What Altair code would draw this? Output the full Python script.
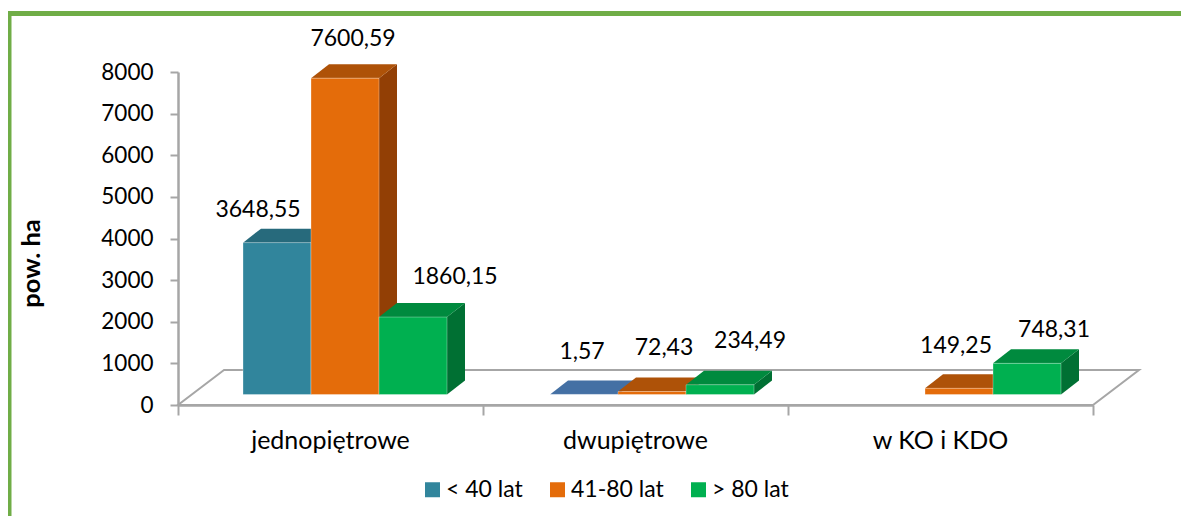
import altair as alt
import pandas as pd

CATEGORIES = ["jednopiętrowe", "dwupiętrowe", "w KO i KDO"]
SERIES = ["< 40 lat", "41-80 lat", "> 80 lat"]
VALUES_40 = [3648.55, 1.57, None]
VALUES_80 = [7600.59, 72.43, 149.25]
VALUES_OLD = [1860.15, 234.49, 748.31]
LABELS_40 = ["3648,55", "1,57", None]
LABELS_80 = ["7600,59", "72,43", "149,25"]
LABELS_OLD = ["1860,15", "234,49", "748,31"]
# label displacement from the centre of each bar top, in pixels (x right, y up)
NUDGE = {
    (0, 0): (-19, 33), (0, 1): (8, 39), (0, 2): (42, 40),
    (1, 0): (-2, 42), (1, 1): (12, 43), (1, 2): (30, 44),
    (2, 1): (-3, 42), (2, 2): (27, 33),
}
FRONT = ["#31859C", "#E46C0A", "#00B050"]
TOP = ["#276A7C", "#AE5208", "#008A3E"]
SIDE = ["#1F5563", "#923F05", "#007033"]
FONT = "Lato"
GREY = "#A6A6A6"

W, H = 915, 333
PX = W / 3          # pixels per category
PY = H / 8000       # pixels per value unit
FLOOR_DX, FLOOR_DY = 46 / PX, 35 / PY
BAR_DX, BAR_DY = 18 / PX, 14 / PY
BASE_DY = 10.5 / PY
BAR_W = 68 / PX
GROUP_START = 65 / PX
GROUP_STEP = 307 / PX

values = [VALUES_40, VALUES_80, VALUES_OLD]
labels = [LABELS_40, LABELS_80, LABELS_OLD]
fronts, sides, tops, texts = [], [], [], []
for c, cat in enumerate(CATEGORIES):
    for s, name in enumerate(SERIES):
        v = values[s][c]
        if v is None:
            continue
        x0 = GROUP_START + c * GROUP_STEP + s * BAR_W
        x1 = x0 + BAR_W
        bid = f"{c}-{s}"
        fronts.append(dict(x=x0, x2=x1, y=BASE_DY, y2=BASE_DY + v, k=name, id=bid))
        top_key = "blue top" if (c, s) == (1, 0) else f"{name} top"
        sides.append(dict(x=x1, y=BASE_DY, y2=BASE_DY + v, k=f"{name} side", id=bid))
        sides.append(dict(x=x1 + BAR_DX, y=BASE_DY + BAR_DY, y2=BASE_DY + BAR_DY + v, k=f"{name} side", id=bid))
        tops.append(dict(y=BASE_DY + v, x=x0, x2=x1, k=top_key, id=bid))
        tops.append(dict(y=BASE_DY + v + BAR_DY, x=x0 + BAR_DX, x2=x1 + BAR_DX, k=top_key, id=bid))
        nx, ny = NUDGE[(c, s)]
        texts.append(dict(x=(x0 + x1) / 2 + nx / PX, y=BASE_DY + v + ny / PY, t=labels[s][c]))

domain = SERIES + [f"{n} top" for n in SERIES] + [f"{n} side" for n in SERIES] + ["blue top"]
rng = FRONT + TOP + SIDE + ["#4470A4"]

xs = alt.Scale(domain=[0, 3], nice=False)
ys = alt.Scale(domain=[0, 8000], nice=False)
color = alt.Color(
    "k:N",
    scale=alt.Scale(domain=domain, range=rng),
    legend=alt.Legend(
        values=SERIES, title=None, orient="none", direction="horizontal",
        legendX=243, legendY=406, symbolType="square", symbolSize=225,
        symbolStrokeWidth=0, symbolOpacity=1, labelFont=FONT, labelFontSize=23,
        labelColor="#000000", columnPadding=23, labelOffset=2,
    ),
)

one = pd.DataFrame({"a": [0]})
floor_df = pd.DataFrame([
    dict(y=0, x=0, x2=3),
    dict(y=FLOOR_DY, x=FLOOR_DX, x2=3 + FLOOR_DX),
])
floor = alt.Chart(floor_df).mark_area(
    orient="horizontal", fill="#FFFFFF", stroke=GREY, strokeWidth=2
).encode(
    y=alt.Y("y:Q", scale=ys, stack=None, axis=alt.Axis(
        title="pow. ha", titleFont=FONT, titleFontSize=25.5, titleFontWeight="bold",
        titleColor="#000000", titleX=-134, titleY=191, values=list(range(0, 9000, 1000)),
        format="d", grid=False, domainColor=GREY, domainWidth=2.5, tickColor=GREY,
        tickWidth=2, tickSize=8, labelFont=FONT, labelFontSize=22.5, labelColor="#000000",
        labelPadding=17,
    )),
    x=alt.X("x:Q", scale=xs, axis=alt.Axis(
        title=None, values=[0, 1, 2, 3], labels=False, grid=False, domainColor=GREY,
        domainWidth=2.5, tickColor=GREY, tickWidth=2, tickSize=10,
    )),
    x2="x2:Q",
)

side = alt.Chart(pd.DataFrame(sides)).mark_area(orient="vertical").encode(
    x=alt.X("x:Q", scale=xs), y=alt.Y("y:Q", scale=ys, stack=None), y2="y2:Q",
    color=color, detail="id:N",
)
top = alt.Chart(pd.DataFrame(tops)).mark_area(orient="horizontal").encode(
    y=alt.Y("y:Q", scale=ys, stack=None), x=alt.X("x:Q", scale=xs), x2="x2:Q",
    color=color, detail="id:N",
)
front = alt.Chart(pd.DataFrame(fronts)).mark_rect(
    stroke="#FFFFFF", strokeOpacity=0.3, strokeWidth=1
).encode(
    x=alt.X("x:Q", scale=xs), x2="x2:Q",
    y=alt.Y("y:Q", scale=ys), y2="y2:Q", color=color,
)
value_text = alt.Chart(pd.DataFrame(texts)).mark_text(
    font=FONT, fontSize=23, color="#000000", baseline="middle"
).encode(x=alt.X("x:Q", scale=xs), y=alt.Y("y:Q", scale=ys), text="t:N")
cat_text = alt.Chart(pd.DataFrame({
    "x": [i + 0.5 for i in range(len(CATEGORIES))], "t": CATEGORIES
})).mark_text(font=FONT, fontSize=25, color="#000000", baseline="middle").encode(
    x=alt.X("x:Q", scale=xs), y=alt.value(369), text="t:N"
)
frame_top = alt.Chart(one).mark_rule(color="#70AD47", strokeWidth=5).encode(
    x=alt.value(-170), x2=alt.value(1003), y=alt.value(-58.5)
)
frame_left = alt.Chart(one).mark_rule(color="#70AD47", strokeWidth=5).encode(
    x=alt.value(-169), y=alt.value(-61), y2=alt.value(444)
)

chart = alt.layer(
    frame_top, frame_left, floor, side, top, front, value_text, cat_text
).properties(
    width=W, height=H,
    autosize=alt.AutoSizeParams(type="none"),
    padding={"left": 170, "top": 64, "right": 88, "bottom": 111},
    background="#FFFFFF",
).configure_view(stroke=None)

chart.save("out.html", embed_options={"renderer": "svg", "actions": False})
